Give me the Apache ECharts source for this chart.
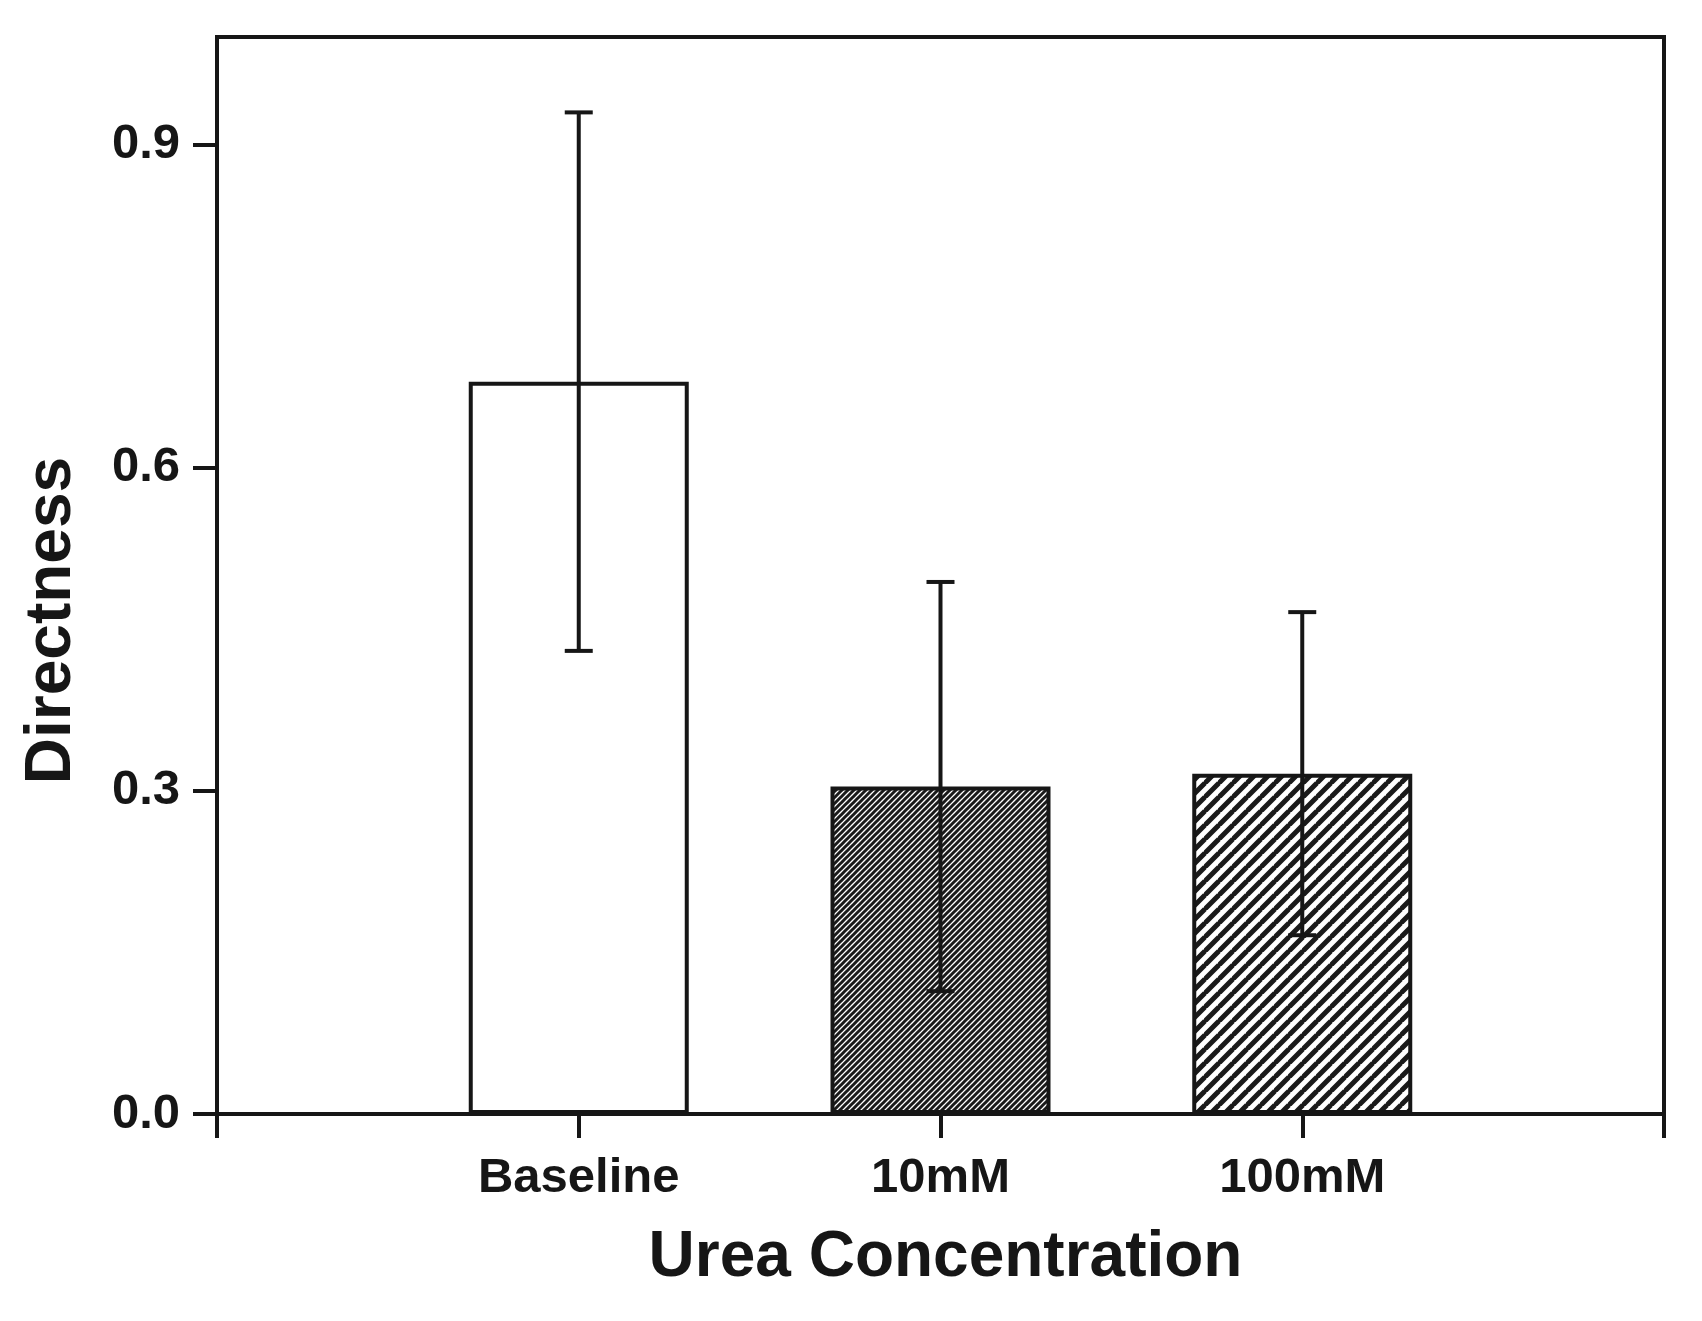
<!DOCTYPE html>
<html>
<head>
<meta charset="utf-8">
<script src="https://cdn.jsdelivr.net/npm/echarts@6/dist/echarts.min.js"></script>
<style>
  html, body { margin: 0; padding: 0; background: #ffffff; }
  #chart { width: 1702px; height: 1321px; }
</style>
</head>
<body>
<div id="chart"></div>
<script>
// ---- data ----
const categories = ['Baseline', '10mM', '100mM'];
const directness = [0.68, 0.304, 0.316];
const sdError = [0.25, 0.19, 0.15];
const yTicks = [0, 0.3, 0.6, 0.9];

// padded category axis so end ticks sit on the frame edges
const axisCats = [''].concat(categories, ['']);

function hatch(spacing, lw, color) {
  const c = document.createElement('canvas');
  c.width = spacing; c.height = spacing;
  const ctx = c.getContext('2d');
  ctx.fillStyle = '#ffffff';
  ctx.fillRect(0, 0, spacing, spacing);
  ctx.strokeStyle = color;
  ctx.lineWidth = lw;
  ctx.beginPath();
  ctx.moveTo(-1, spacing + 1); ctx.lineTo(spacing + 1, -1);
  ctx.moveTo(-spacing - 1, spacing + 1); ctx.lineTo(1, -1);
  ctx.moveTo(-1, 2 * spacing + 1); ctx.lineTo(spacing + 1, spacing - 1);
  ctx.stroke();
  return c;
}

const fills = [
  '#ffffff',
  { image: hatch(6, 3, '#1a1a1a'), repeat: 'repeat' },
  { image: hatch(14, 5, '#1a1a1a'), repeat: 'repeat' }
];

const barData = [null].concat(directness.map((v, i) => ({
  value: v,
  itemStyle: { color: fills[i] }
})), [null]);

const errData = directness.map((v, i) => [i + 1, v, sdError[i]]);

const FONT = "'Liberation Sans', Arial, sans-serif";
const INK = '#161616';

const chart = echarts.init(document.getElementById('chart'), null, { renderer: 'canvas' });
chart.setOption({
  animation: false,
  backgroundColor: '#ffffff',
  grid: {
    left: 217, right: 38, top: 37, bottom: 207,
    show: true, borderColor: INK, borderWidth: 4, backgroundColor: 'transparent'
  },
  xAxis: {
    type: 'category',
    data: axisCats,
    boundaryGap: false,
    axisLine: { show: true, lineStyle: { color: INK, width: 4 } },
    axisTick: { show: true, length: 24, lineStyle: { color: INK, width: 4 } },
    axisLabel: { show: true, interval: 0, margin: 40, color: INK, fontFamily: FONT, fontWeight: 'bold', fontSize: 49 },
    splitLine: { show: false },
    name: 'Urea Concentration',
    nameLocation: 'middle',
    nameGap: 112,
    nameTextStyle: { color: INK, fontFamily: FONT, fontWeight: 'bold', fontSize: 64, padding: [0, 0, 0, 10] }
  },
  yAxis: {
    type: 'value',
    min: 0, max: 1.0, interval: 0.3,
    axisLine: { show: true, lineStyle: { color: INK, width: 4 } },
    axisTick: { show: true, length: 24, customValues: yTicks, lineStyle: { color: INK, width: 4 } },
    axisLabel: { show: true, customValues: yTicks, margin: 37, color: INK, fontFamily: FONT, fontWeight: 'bold', fontSize: 49,
      formatter: v => v.toFixed(1) },
    splitLine: { show: false },
    name: 'Directness',
    nameLocation: 'middle',
    nameGap: 133,
    nameTextStyle: { color: INK, fontFamily: FONT, fontWeight: 'bold', fontSize: 64, padding: [0, 90, 0, 0] }
  },
  series: [
    {
      type: 'bar',
      data: barData,
      barWidth: 220,
      itemStyle: { borderColor: INK, borderWidth: 4 },
      z: 2
    },
    {
      type: 'custom',
      data: errData,
      z: 5,
      renderItem: function (params, api) {
        const xi = api.value(0);
        const v = api.value(1);
        const e = api.value(2);
        const top = api.coord([xi, v + e]);
        const bot = api.coord([xi, v - e]);
        const cap = 14;
        const style = { stroke: INK, lineWidth: 4 };
        return {
          type: 'group',
          children: [
            { type: 'line', shape: { x1: top[0], y1: top[1], x2: bot[0], y2: bot[1] }, style: style },
            { type: 'line', shape: { x1: top[0] - cap, y1: top[1], x2: top[0] + cap, y2: top[1] }, style: style },
            { type: 'line', shape: { x1: bot[0] - cap, y1: bot[1], x2: bot[0] + cap, y2: bot[1] }, style: style }
          ]
        };
      }
    }
  ]
});
</script>
</body>
</html>
